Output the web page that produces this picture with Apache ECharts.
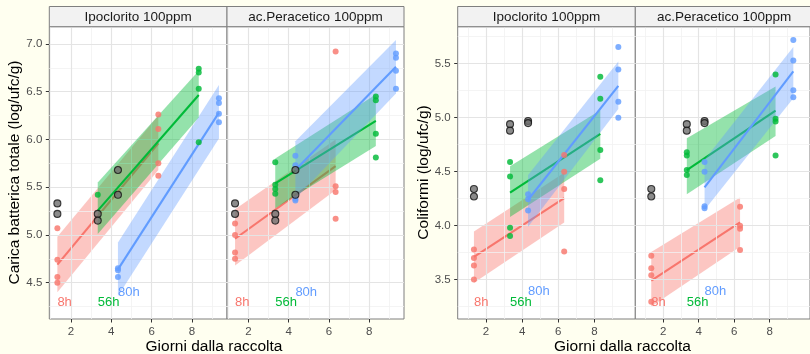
<!DOCTYPE html>
<html><head><meta charset="utf-8">
<script src="https://cdn.jsdelivr.net/npm/echarts@6/dist/echarts.min.js"></script>
<style>html,body{margin:0;padding:0;background:#fffff0}#c{width:810px;height:354px}</style>
</head><body><div id="c"></div>
<script>
// ---------- data ----------
const groups = ['8h', '56h', '80h'];
const groupDays = [[1.33, 6.33], [3.33, 8.33], [4.33, 9.33]];
const facets = ['Ipoclorito 100ppm', 'ac.Peracetico 100ppm'];
const xTicks = [2, 4, 6, 8];
const xMinor = [1, 3, 5, 7, 9];
const cbtTicks = [4.5, 5.0, 5.5, 6.0, 6.5, 7.0];
const cbtMinor = [4.25, 4.75, 5.25, 5.75, 6.25, 6.75];
const colTicks = [3.5, 4.0, 4.5, 5.0, 5.5];
const colMinor = [3.25, 3.75, 4.25, 4.75, 5.25, 5.75];
const cbtXRange = [0.93, 9.73];
const cbtYRange = [4.12, 7.18];
const colXRange = [0.43, 10.27];
const colYRange = [3.135, 5.843];

// control (black) points at each group's start day
const cbtControl = [[5.33, 5.22], [5.22, 5.15], [5.68, 5.42]];
const colControl = [[4.34, 4.27], [4.94, 4.88], [4.97, 4.95]];

// Carica batterica totale - Ipoclorito
const cbtIpoStart = [[5.07, 4.74, 4.56, 4.50], [5.42], [4.65, 4.63, 4.56]];
const cbtIpoEnd = [[6.26, 6.11, 5.75, 5.62], [6.74, 6.70, 6.53, 5.97], [6.43, 6.38, 6.27, 6.18]];
const cbtIpoFit = [[4.69, 5.96], [5.255, 6.465], [4.64, 6.28]];
const cbtIpoLo = [[4.40, 5.68], [5.01, 6.23], [4.36, 6.01]];
const cbtIpoHi = [[4.98, 6.25], [5.55, 6.72], [4.92, 6.57]];

// Carica batterica totale - ac.Peracetico
const cbtPerStart = [[5.12, 5.00, 4.815, 4.75], [5.76, 5.525, 5.48, 5.43], [5.83, 5.73, 5.38, 5.36]];
const cbtPerEnd = [[6.92, 5.51, 5.45, 5.17], [6.45, 6.41, 6.06, 5.81], [6.90, 6.855, 6.72, 6.53]];
const cbtPerFit = [[4.96, 5.72], [5.54, 6.195], [5.68, 6.76]];
const cbtPerLo = [[4.68, 5.47], [5.28, 5.93], [5.38, 6.48]];
const cbtPerHi = [[5.27, 6.00], [5.80, 6.47], [5.98, 7.04]];

// Coliformi - Ipoclorito
const colIpoStart = [[3.78, 3.70, 3.63, 3.50], [4.59, 4.455, 3.98, 3.905], [4.29, 4.245, 4.14]];
const colIpoEnd = [[4.655, 4.50, 4.34, 3.76], [5.38, 5.175, 4.70, 4.42], [5.655, 5.447, 5.148, 5.00]];
const colIpoFit = [[3.71, 4.254], [4.305, 4.85], [4.24, 5.295]];
const colIpoLo = [[3.47, 4.03], [4.08, 4.62], [3.99, 5.08]];
const colIpoHi = [[3.945, 4.49], [4.55, 5.07], [4.47, 5.52]];

// Coliformi - ac.Peracetico
const colPerStart = [[3.72, 3.605, 3.54, 3.295], [4.68, 4.65, 4.515, 4.47], [4.59, 4.50, 4.18, 4.16]];
const colPerEnd = [[4.175, 4.00, 3.97, 3.775], [5.40, 4.99, 4.965, 4.65], [5.72, 5.53, 5.255, 5.19]];
const colPerFit = [[3.49, 4.03], [4.515, 5.065], [4.355, 5.43]];
const colPerLo = [[3.25, 3.805], [4.29, 4.83], [4.145, 5.18]];
const colPerHi = [[3.755, 4.26], [4.81, 5.29], [4.61, 5.655]];

// text labels
const cbtLabelY = [4.29, 4.29, 4.395];
const colLabelY = [3.287, 3.287, 3.386];

// ---------- styling / layout ----------
const colors = ['#F8766D', '#00BA38', '#619CFF'];
const bandFill = ['rgba(248,118,109,0.42)', 'rgba(0,186,56,0.42)', 'rgba(97,156,255,0.38)'];
const FONT = '"Liberation Sans", Arial, Helvetica, sans-serif';

const panels = [
  {box: [49.3, 26.7, 177.7, 292.3], xr: cbtXRange, yr: cbtYRange, yt: cbtTicks, ym: cbtMinor, showY: true,
   start: cbtIpoStart, end: cbtIpoEnd, fit: cbtIpoFit, lo: cbtIpoLo, hi: cbtIpoHi, ctrl: cbtControl, ly: cbtLabelY, facet: 0},
  {box: [227, 26.7, 177, 292.3], xr: cbtXRange, yr: cbtYRange, yt: cbtTicks, ym: cbtMinor, showY: false,
   start: cbtPerStart, end: cbtPerEnd, fit: cbtPerFit, lo: cbtPerLo, hi: cbtPerHi, ctrl: cbtControl, ly: cbtLabelY, facet: 1},
  {box: [457.7, 26.7, 177.6, 292.3], xr: colXRange, yr: colYRange, yt: colTicks, ym: colMinor, showY: true,
   start: colIpoStart, end: colIpoEnd, fit: colIpoFit, lo: colIpoLo, hi: colIpoHi, ctrl: colControl, ly: colLabelY, facet: 0},
  {box: [635.3, 26.7, 177.6, 292.3], xr: colXRange, yr: colYRange, yt: colTicks, ym: colMinor, showY: false,
   start: colPerStart, end: colPerEnd, fit: colPerFit, lo: colPerLo, hi: colPerHi, ctrl: colControl, ly: colLabelY, facet: 1}
];

const grid = [], xAxis = [], yAxis = [], series = [], graphic = [];

panels.forEach((p, i) => {
  grid.push({left: p.box[0], top: p.box[1], width: p.box[2], height: p.box[3], show: true,
    backgroundColor: '#ffffff', borderColor: '#7f7f7f', borderWidth: 1, containLabel: false});
  xAxis.push({type: 'value', gridIndex: i, min: p.xr[0], max: p.xr[1],
    axisLine: {show: false}, splitLine: {show: false},
    axisTick: {show: true, length: 3.5, customValues: xTicks, lineStyle: {color: '#333', width: 1}},
    axisLabel: {show: true, customValues: xTicks, margin: 7, color: '#4d4d4d', fontSize: 11.5, fontFamily: FONT}});
  yAxis.push({type: 'value', gridIndex: i, min: p.yr[0], max: p.yr[1],
    axisLine: {show: false}, splitLine: {show: false},
    axisTick: {show: p.showY, length: 3.5, customValues: p.yt, lineStyle: {color: '#333', width: 1}},
    axisLabel: {show: p.showY, customValues: p.yt, margin: 7, color: '#4d4d4d', fontSize: 11.5, fontFamily: FONT,
      formatter: v => Number(v).toFixed(1)}});

  // grid lines
  const ml = [];
  xMinor.forEach(v => ml.push({xAxis: v, lineStyle: {color: '#f1f1f1', width: 0.8}}));
  p.ym.forEach(v => ml.push({yAxis: v, lineStyle: {color: '#f1f1f1', width: 0.8}}));
  xTicks.forEach(v => ml.push({xAxis: v, lineStyle: {color: '#e4e4e4', width: 1.2}}));
  p.yt.forEach(v => ml.push({yAxis: v, lineStyle: {color: '#e4e4e4', width: 1.2}}));
  series.push({type: 'line', xAxisIndex: i, yAxisIndex: i, data: [], z: 1, silent: true,
    markLine: {silent: true, symbol: ['none', 'none'], label: {show: false}, animation: false,
      lineStyle: {type: 'solid'}, data: ml}});

  // bands and fit lines (ribbon then line per group, in order)
  groups.forEach((g, k) => {
    series.push({type: 'custom', xAxisIndex: i, yAxisIndex: i, z: 3 + 2 * k, silent: true,
      data: [[groupDays[k][0], p.lo[k][0], p.hi[k][0], groupDays[k][1], p.lo[k][1], p.hi[k][1]]],
      renderItem: (params, api) => {
        const a = api.coord([api.value(0), api.value(1)]);
        const b = api.coord([api.value(3), api.value(4)]);
        const c = api.coord([api.value(3), api.value(5)]);
        const d = api.coord([api.value(0), api.value(2)]);
        return {type: 'polygon', shape: {points: [a, b, c, d]}, style: {fill: bandFill[k]}};
      }});
    series.push({type: 'line', xAxisIndex: i, yAxisIndex: i, z: 4 + 2 * k, silent: true,
      data: [[groupDays[k][0], p.fit[k][0]], [groupDays[k][1], p.fit[k][1]]],
      showSymbol: false, lineStyle: {color: colors[k], width: 2.1}});
  });

  // points (on top of bands)
  groups.forEach((g, k) => {
    const pts = [];
    p.start[k].forEach(v => pts.push([groupDays[k][0], v]));
    p.end[k].forEach(v => pts.push([groupDays[k][1], v]));
    series.push({type: 'scatter', xAxisIndex: i, yAxisIndex: i, data: pts, symbolSize: 6, z: 9, silent: true,
      itemStyle: {color: colors[k], opacity: 0.82}});
  });

  // control points
  const cp = [];
  p.ctrl.forEach((vals, k) => vals.forEach(v => cp.push([groupDays[k][0], v])));
  series.push({type: 'scatter', xAxisIndex: i, yAxisIndex: i, data: cp, symbolSize: 7, z: 10, silent: true,
    itemStyle: {color: '#6e6e6e', borderColor: '#111', borderWidth: 1.1}});

  // group labels
  series.push({type: 'custom', xAxisIndex: i, yAxisIndex: i, z: 11, silent: true,
    data: groups.map((g, k) => [groupDays[k][0], p.ly[k], k]),
    renderItem: (params, api) => {
      const pt = api.coord([api.value(0), api.value(1)]);
      const k = api.value(2);
      return {type: 'text', x: pt[0], y: pt[1],
        style: {text: groups[k], fill: colors[k], fontSize: 13, fontFamily: FONT, align: 'left', verticalAlign: 'middle'}};
    }});

  // strip
  graphic.push({type: 'rect', z: 20, shape: {x: p.box[0], y: 6.5, width: p.box[2], height: 20.2},
    style: {fill: '#f2f2f2', stroke: '#7f7f7f', lineWidth: 1}});
  graphic.push({type: 'text', z: 21, x: p.box[0] + p.box[2] / 2, y: 17,
    style: {text: facets[p.facet], fill: '#1a1a1a', fontSize: 13.5, fontFamily: FONT, align: 'center', verticalAlign: 'middle'}});
});

// axis titles
graphic.push({type: 'text', z: 21, x: 214, y: 347,
  style: {text: 'Giorni dalla raccolta', fill: '#000', fontSize: 15.5, fontFamily: FONT, align: 'center', verticalAlign: 'middle'}});
graphic.push({type: 'text', z: 21, x: 622.5, y: 347,
  style: {text: 'Giorni dalla raccolta', fill: '#000', fontSize: 15.5, fontFamily: FONT, align: 'center', verticalAlign: 'middle'}});
graphic.push({type: 'text', z: 21, x: 15, y: 172.5, rotation: Math.PI / 2,
  style: {text: 'Carica batterica totale (log/ufc/g)', fill: '#000', fontSize: 15.5, fontFamily: FONT, align: 'center', verticalAlign: 'middle'}});
graphic.push({type: 'text', z: 21, x: 424, y: 172.5, rotation: Math.PI / 2,
  style: {text: 'Coliformi (log/ufc/g)', fill: '#000', fontSize: 15.5, fontFamily: FONT, align: 'center', verticalAlign: 'middle'}});

const chart = echarts.init(document.getElementById('c'), null, {renderer: 'canvas'});
chart.setOption({
  animation: false,
  backgroundColor: '#fffff0',
  grid, xAxis, yAxis, series, graphic
});
</script>
</body></html>
